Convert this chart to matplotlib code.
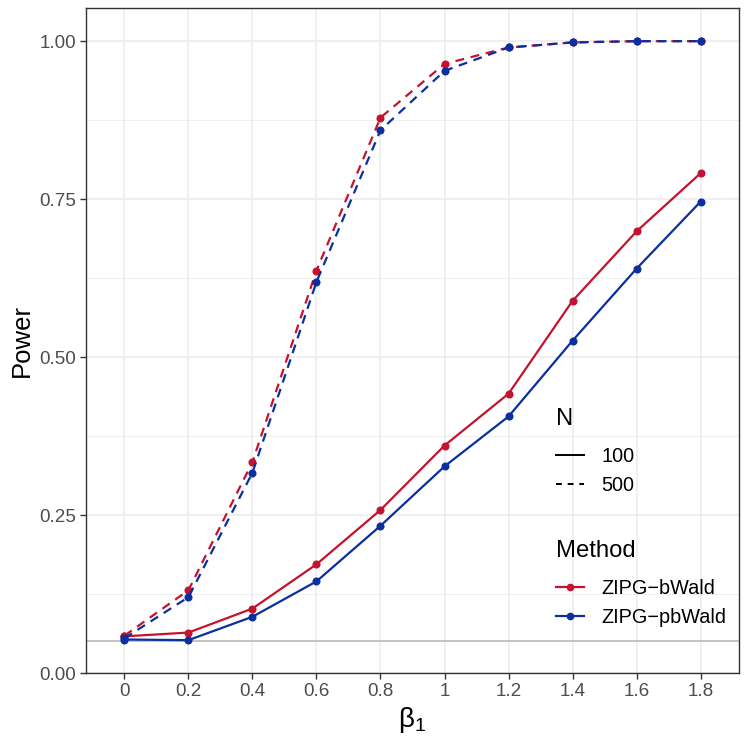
import matplotlib
matplotlib.use("Agg")
import matplotlib.pyplot as plt
from matplotlib.lines import Line2D
import numpy as np

plt.rcParams["font.family"] = ["Liberation Sans", "DejaVu Sans"]

# ---- data ----
beta_labels = ["0", "0.2", "0.4", "0.6", "0.8", "1", "1.2", "1.4", "1.6", "1.8"]
bwald_100 = [0.058, 0.064, 0.102, 0.172, 0.258, 0.360, 0.442, 0.589, 0.699, 0.791]
pbwald_100 = [0.053, 0.052, 0.089, 0.145, 0.233, 0.327, 0.406, 0.526, 0.640, 0.746]
bwald_500 = [0.059, 0.131, 0.334, 0.637, 0.879, 0.964, 0.990, 0.998, 1.000, 1.000]
pbwald_500 = [0.055, 0.120, 0.317, 0.619, 0.859, 0.953, 0.990, 0.998, 1.000, 1.000]
methods = ["ZIPG\u2212bWald", "ZIPG\u2212pbWald"]
sizes = ["100", "500"]
y_ticks = [0.0, 0.25, 0.5, 0.75, 1.0]
y_tick_labels = ["0.00", "0.25", "0.50", "0.75", "1.00"]
ref_level = 0.05

RED = "#C4122F"
BLUE = "#0A2F9F"
GRID = "#EBEBEB"
TICKC = "#4D4D4D"

fig = plt.figure(figsize=(7.47, 7.47), dpi=100)
ax = fig.add_axes([86/747, 74/747, (739-86)/747, (673-8)/747])

x = np.arange(len(beta_labels))

# grid
for yv in y_ticks:
    ax.axhline(yv, color=GRID, lw=1.1, zorder=0)
for yv in [0.125, 0.375, 0.625, 0.875]:
    ax.axhline(yv, color=GRID, lw=0.55, zorder=0)
for xv in x:
    ax.axvline(xv, color=GRID, lw=1.1, zorder=0)

ax.axhline(ref_level, color="#B3B3B3", lw=1.1, zorder=1)

lw = 1.6
ms = 4.8
ax.plot(x, bwald_100, color=RED, lw=lw, ls="-", marker="o", ms=ms, zorder=3)
ax.plot(x, pbwald_100, color=BLUE, lw=lw, ls="-", marker="o", ms=ms, zorder=3)
ax.plot(x, bwald_500, color=RED, lw=lw, ls=(0, (4, 3)), marker="o", ms=ms, zorder=3)
ax.plot(x, pbwald_500, color=BLUE, lw=lw, ls=(0, (4, 3)), marker="o", ms=ms, zorder=3)

ax.set_xlim(-0.6, len(x) - 1 + 0.6)
ax.set_ylim(0, 1.0525)
ax.set_xticks(x)
ax.set_xticklabels(beta_labels)
ax.set_yticks(y_ticks)
ax.set_yticklabels(y_tick_labels)
ax.tick_params(axis="both", colors="#333333", labelcolor=TICKC, labelsize=13.6,
               length=4, width=1.0, direction="out", pad=3)
for s in ax.spines.values():
    s.set_color("#333333")
    s.set_linewidth(1.0)

ax.set_ylabel("Power", fontsize=18.5, color="black", labelpad=4)
ax.set_xlabel(r"$\mathregular{\beta_1}$", fontsize=20, color="black", labelpad=4)

# legends
h_n = [Line2D([], [], color="black", lw=1.4, ls="-"),
       Line2D([], [], color="black", lw=1.4, ls=(0, (3, 3)))]
leg1 = ax.legend(h_n, sizes, title="N", loc="upper left",
                 bbox_to_anchor=(548/747, 1 - 400/747), bbox_transform=fig.transFigure,
                 frameon=False, fontsize=14.3, title_fontsize=17.2, handlelength=1.4,
                 handletextpad=0.9, labelspacing=0.5, alignment="left", borderaxespad=0)
leg1._legend_box.sep = 12
ax.add_artist(leg1)
h_m = [Line2D([], [], color=RED, lw=1.6, marker="o", ms=4.5),
       Line2D([], [], color=BLUE, lw=1.6, marker="o", ms=4.5)]
leg2 = ax.legend(h_m, methods, title="Method", loc="upper left",
                 bbox_to_anchor=(548/747, 1 - 532/747), bbox_transform=fig.transFigure,
                 frameon=False, fontsize=14.3, title_fontsize=17.2, handlelength=1.4,
                 handletextpad=0.9, labelspacing=0.5, alignment="left", borderaxespad=0)
leg2._legend_box.sep = 12

fig.savefig("out.png", dpi=100)
